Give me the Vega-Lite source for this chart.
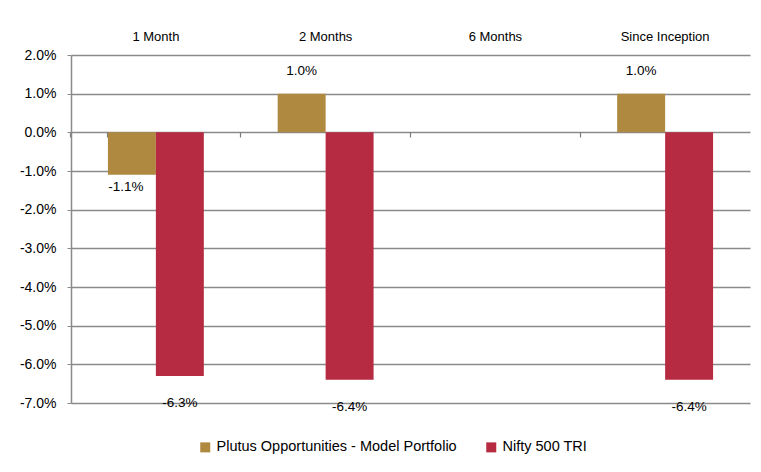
{
  "$schema": "https://vega.github.io/schema/vega-lite/v6.json",
  "width": 679,
  "height": 348,
  "autosize": {"type": "none"},
  "padding": {"left": 71, "top": 55, "right": 11, "bottom": 69},
  "background": "white",
  "config": {
    "view": {"stroke": null},
    "font": "Liberation Sans",
    "locale": {"number": {"decimal": ".", "thousands": ",", "grouping": [3], "currency": ["$", ""], "minus": "-"}},
    "text": {"font": "Liberation Sans", "fontSize": 13.5, "color": "#000000"},
    "axisY": {
      "title": null, "format": ".1%", "labelOverlap": false, "tickCount": 9,
      "labelFontSize": 14, "labelColor": "#000000", "labelFont": "Liberation Sans", "labelPadding": 11,
      "domainColor": "#8a8a8a", "domainWidth": 1.5, "tickColor": "#8a8a8a", "tickSize": 4, "tickWidth": 1,
      "gridColor": "#8a8a8a", "gridWidth": 1.5
    }
  },
  "data": {
    "values": [
      {"period": "1 Month", "series": "Plutus Opportunities - Model Portfolio", "value": -0.011},
      {"period": "1 Month", "series": "Nifty 500 TRI", "value": -0.063},
      {"period": "2 Months", "series": "Plutus Opportunities - Model Portfolio", "value": 0.010},
      {"period": "2 Months", "series": "Nifty 500 TRI", "value": -0.064},
      {"period": "Since Inception", "series": "Plutus Opportunities - Model Portfolio", "value": 0.010},
      {"period": "Since Inception", "series": "Nifty 500 TRI", "value": -0.064}
    ]
  },
  "layer": [
    {
      "mark": {"type": "bar"},
      "encoding": {
        "x": {
          "field": "period", "type": "nominal", "sort": null,
          "scale": {"domain": ["1 Month", "2 Months", "6 Months", "Since Inception"], "paddingInner": 0.435, "paddingOuter": 0.2175},
          "axis": {"orient": "top", "title": null, "domain": false, "ticks": false, "labelAngle": 0, "labelFontSize": 13, "labelColor": "#000000", "labelPadding": 12, "labelFont": "Liberation Sans"}
        },
        "xOffset": {"field": "series", "type": "nominal", "sort": null, "scale": {"domain": ["Plutus Opportunities - Model Portfolio", "Nifty 500 TRI"]}},
        "y": {
          "field": "value", "type": "quantitative",
          "scale": {"domain": [-0.07, 0.02], "nice": false, "zero": false}
        },
        "color": {
          "field": "series", "type": "nominal", "sort": null,
          "scale": {"domain": ["Plutus Opportunities - Model Portfolio", "Nifty 500 TRI"], "range": ["#AF893F", "#B72B42"]},
          "legend": {
            "orient": "none", "legendX": 127, "legendY": 385, "direction": "horizontal", "title": null,
            "symbolType": "square", "symbolSize": 100, "symbolStrokeWidth": 0, "labelLimit": 400,
            "labelFontSize": 14.5, "labelColor": "#000000", "labelFont": "Liberation Sans", "columnPadding": 27, "labelOffset": 4
          }
        }
      }
    },
    {
      "transform": [{"filter": "datum.series === 'Nifty 500 TRI'"}],
      "mark": {"type": "text", "baseline": "middle", "dy": 27},
      "encoding": {
        "x": {
          "field": "period", "type": "nominal", "sort": null,
          "axis": {"orient": "bottom", "offset": -271, "title": null, "labels": false, "domain": false, "ticks": true, "bandPosition": -0.385, "tickExtra": true, "tickSize": 5, "tickColor": "#7a7a7a", "tickWidth": 1.2, "grid": false}
        },
        "xOffset": {"field": "series", "type": "nominal", "sort": null},
        "y": {"field": "value", "type": "quantitative"},
        "text": {"field": "value", "type": "quantitative", "format": ".1%"}
      }
    },
    {
      "transform": [{"filter": "datum.series !== 'Nifty 500 TRI' && datum.value < 0"}],
      "mark": {"type": "text", "baseline": "middle", "dy": 12, "dx": -6},
      "encoding": {
        "x": {"field": "period", "type": "nominal", "sort": null, "axis": null},
        "xOffset": {"field": "series", "type": "nominal", "sort": null},
        "y": {"field": "value", "type": "quantitative"},
        "text": {"field": "value", "type": "quantitative", "format": ".1%"}
      }
    },
    {
      "transform": [{"filter": "datum.series !== 'Nifty 500 TRI' && datum.value >= 0"}],
      "mark": {"type": "text", "baseline": "middle", "dy": -23},
      "encoding": {
        "x": {"field": "period", "type": "nominal", "sort": null, "axis": null},
        "xOffset": {"field": "series", "type": "nominal", "sort": null},
        "y": {"field": "value", "type": "quantitative"},
        "text": {"field": "value", "type": "quantitative", "format": ".1%"}
      }
    }
  ],
  "resolve": {"axis": {"x": "independent"}}
}
